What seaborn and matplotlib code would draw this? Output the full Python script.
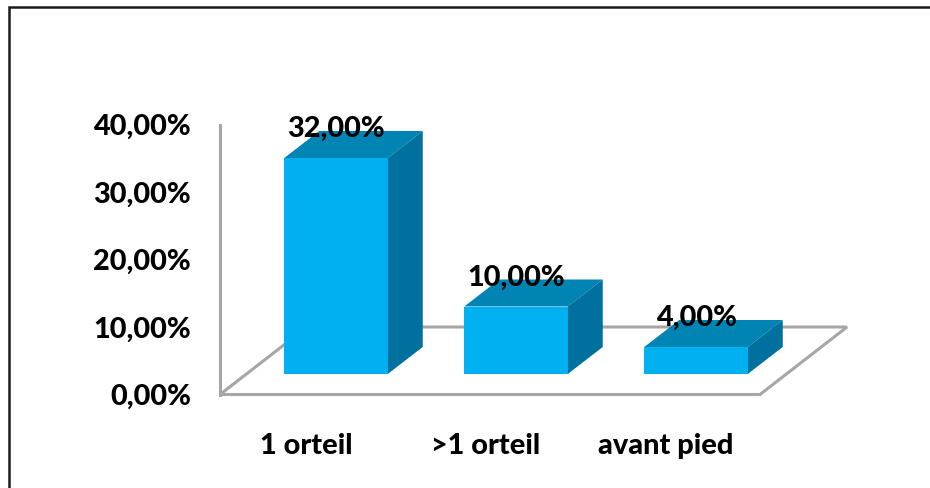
import matplotlib
matplotlib.use("Agg")
import matplotlib.pyplot as plt
from matplotlib.patches import Polygon, Rectangle
from matplotlib.transforms import ScaledTranslation
import pandas as pd
import seaborn as sns

categories = ["1 orteil", ">1 orteil", "avant pied"]
values = [32.0, 10.0, 4.0]
yticks = [0, 10, 20, 30, 40]

W, H = 930, 488
FRONT, TOP, SIDE = "#00B0F0", "#0084B4", "#00719F"
GREY = "#A6A6A6"
WEIGHT = 900
SIZE = 20.8


def fmt(v):
    return f"{v:.2f}".replace(".", ",") + "%"


sns.set_theme(style="white")
plt.rcParams["font.family"] = ["Lato", "DejaVu Sans"]

fig = plt.figure(figsize=(W / 100, H / 100), dpi=100, facecolor="white")


def axes_px(left, right, top, bottom):
    return fig.add_axes([left / W, 1 - bottom / H, (right - left) / W, (bottom - top) / H])


fig.add_artist(Rectangle((9 / W, -0.02), 1, 1 - 7 / H + 0.02, transform=fig.transFigure,
                         fill=False, ec="#1a1a1a", lw=1.8))

# Wall and floor axes
ax = axes_px(220, 760, 124.5, 394.5)
ax.patch.set_alpha(0)
ax.set_xlim(-0.5, 2.5)
ax.set_ylim(0, 40)
depth_x = 87 / 180
floor = [(-0.5, 0), (2.5, 0), (2.5 + depth_x, 10), (-0.5 + depth_x, 10)]
ax.add_patch(Polygon(floor, closed=True, fill=False, ec=GREY, lw=2.2, clip_on=False, joinstyle="miter"))
for s in ("top", "right", "bottom"):
    ax.spines[s].set_visible(False)
ax.spines["left"].set_color(GREY)
ax.spines["left"].set_linewidth(2.2)
ax.set_yticks(yticks, [fmt(v) for v in yticks])
ax.set_xticks(range(len(categories)), categories)
ax.tick_params(axis="y", length=0, pad=21, labelsize=SIZE, labelcolor="black")
ax.tick_params(axis="x", length=0, pad=27.5, labelsize=SIZE, labelcolor="black")
shift = ScaledTranslation(-3 / 72, 0, fig.dpi_scale_trans)
for t in ax.get_xticklabels():
    t.set_transform(t.get_transform() + shift)
    t.set_fontweight(WEIGHT)
for t in ax.get_yticklabels():
    t.set_fontweight(WEIGHT)
ax.set_xlabel("")
ax.set_ylabel("")

# Bars raised above the front floor edge, in a same-scale overlay
bx = axes_px(246, 786, 104, 374)
bx.patch.set_alpha(0)
df = pd.DataFrame({"cat": categories, "val": values})
sns.barplot(data=df, x="cat", y="val", ax=bx, color=FRONT, saturation=1, width=0.575, zorder=3,
            edgecolor="none", linewidth=0)
bx.set_xlim(-0.5, 2.5)
bx.set_ylim(0, 40)
bx.set_axis_off()

bar_dx, bar_dy = 35 / 180, 4.0
for bar, v in zip(list(bx.patches), values):
    x0, x1 = bar.get_x(), bar.get_x() + bar.get_width()
    bx.add_patch(Polygon([(x0, v), (x1, v), (x1 + bar_dx, v + bar_dy), (x0 + bar_dx, v + bar_dy)],
                         closed=True, fc=TOP, ec="none", clip_on=False, zorder=2))
    bx.add_patch(Polygon([(x1, 0), (x1 + bar_dx, bar_dy), (x1 + bar_dx, v + bar_dy), (x1, v)],
                         closed=True, fc=SIDE, ec="none", clip_on=False, zorder=2))
    bx.annotate(fmt(v), (bar.get_x() + bar.get_width() / 2, v), xytext=(0, 21), textcoords="offset points",
                ha="center", va="center", fontsize=SIZE, fontweight=WEIGHT, color="black",
                annotation_clip=False, zorder=5)

fig.savefig("out.png", dpi=100)
